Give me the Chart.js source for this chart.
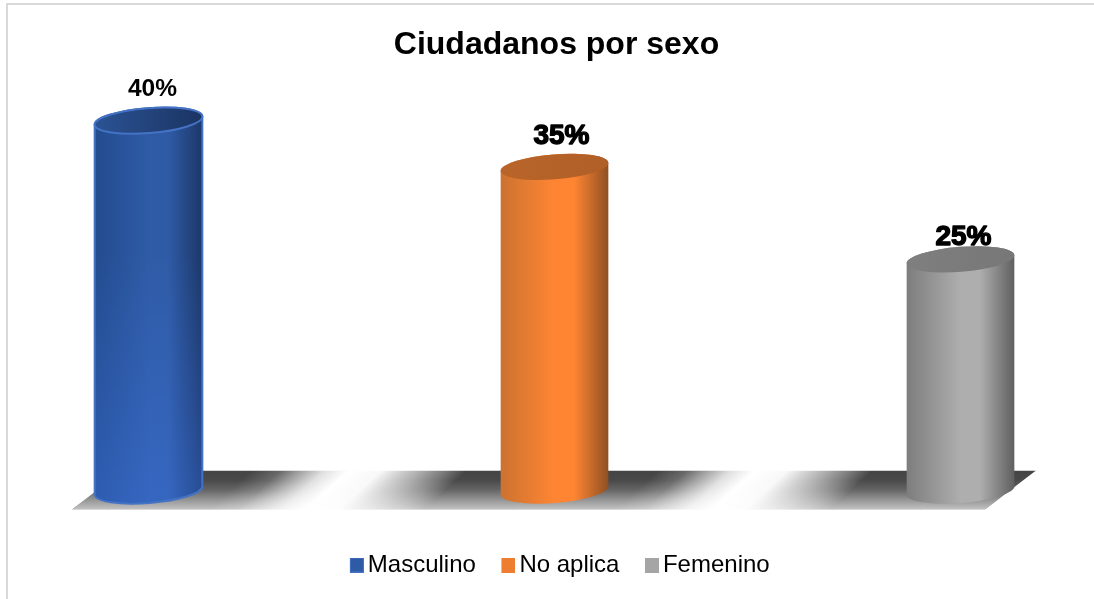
<!DOCTYPE html>
<html lang="es">
<head>
<meta charset="utf-8">
<title>Ciudadanos por sexo</title>
<script src="https://cdn.jsdelivr.net/npm/chart.js@4/dist/chart.umd.min.js"></script>
<style>
  html, body { margin: 0; padding: 0; background: #fff; overflow: hidden; }
  #wrap { position: relative; width: 1094px; height: 599px; }
</style>
</head>
<body>
<div id="wrap"><canvas id="chart" width="1094" height="599"></canvas></div>
<script>
const categories = ['Masculino', 'No aplica', 'Femenino'];
const percentages = [40, 35, 25];
const valueMax = 45;

// Shading of each cylinder: left edge, centre, right edge, lid left, lid right, outline
const edgeLeft = ['#234c8f', '#cc7230', '#7d7d7d'];
const centre = ['#2f5ba6', '#ff8533', '#aeaeae'];
const edgeRight = ['#1c3768', '#8f5022', '#5f5f5f'];
const lidLeft = ['#2b5394', '#b9652a', '#7f7f7f'];
const lidRight = ['#1b3463', '#b05f27', '#777777'];
const outline = ['#4472c4', null, null];
const lowerGlowAlpha = [0.3, 0, 0];
const swatchColors = ['#2f5ba6', '#ed7d31', '#a5a5a5'];

// Size, extra weight and offsets of the percentage labels
const labelSize = [24.5, 28, 28];
const labelWeight = [0, 1.4, 1.4];
const labelShiftX = [4, 7, 3];
const labelShiftY = [-31, -31, -22];

// Colour along one period of the floor bands, from dark band to dark band
const floorStops = [
  [0, '#444444'], [0.25, '#444444'], [0.32, '#666666'], [0.37, '#a0a0a0'],
  [0.43, '#e0e0e0'], [0.49, '#ffffff'], [0.57, '#f8f8f8'], [0.62, '#d0d0d0'],
  [0.67, '#aaaaaa'], [0.73, '#777777'], [0.78, '#444444'], [1, '#444444']
];
// Opacity of the white wash from the back of the floor to its front edge
const floorWash = [[0, 0], [0.25, 0.03], [0.5, 0.18], [0.77, 0.45], [1, 0.68]];

const LID_RY = 12.5;
const LID_TILT = -4.5 * Math.PI / 180;

function cylinderPath(ctx, x, top, base, rx) {
  const c = Math.cos(LID_TILT) * rx, s = Math.sin(LID_TILT) * rx;
  ctx.beginPath();
  ctx.moveTo(x - c, top - s);
  ctx.lineTo(x - c, base - s);
  ctx.ellipse(x, base, rx, LID_RY, LID_TILT, Math.PI, 0, true);
  ctx.lineTo(x + c, top + s);
  ctx.ellipse(x, top, rx, LID_RY, LID_TILT, 0, Math.PI, true);
  ctx.closePath();
}

function drawCylinder(ctx, bar, i) {
  const { x, y: top, base, width } = bar.getProps(['x', 'y', 'base', 'width'], true);
  const rx = width / 2;
  const body = ctx.createLinearGradient(x - rx, 0, x + rx, 0);
  body.addColorStop(0, edgeLeft[i]);
  body.addColorStop(0.5, centre[i]);
  body.addColorStop(0.68, centre[i]);
  body.addColorStop(1, edgeRight[i]);

  ctx.save();
  cylinderPath(ctx, x, top, base, rx);
  ctx.fillStyle = body;
  ctx.fill();

  if (lowerGlowAlpha[i] > 0) {
    const glow = ctx.createLinearGradient(0, top, 0, base + LID_RY);
    glow.addColorStop(0.35, 'rgba(70,130,255,0)');
    glow.addColorStop(1, `rgba(70,130,255,${lowerGlowAlpha[i]})`);
    ctx.fillStyle = glow;
    ctx.fill();
  }

  if (outline[i]) {
    ctx.strokeStyle = outline[i];
    ctx.lineWidth = 2;
    ctx.stroke();
  }

  const lid = ctx.createLinearGradient(x - rx, 0, x + rx, 0);
  lid.addColorStop(0, lidLeft[i]);
  lid.addColorStop(1, lidRight[i]);
  ctx.beginPath();
  ctx.ellipse(x, top, rx, LID_RY, LID_TILT, 0, Math.PI * 2);
  ctx.fillStyle = lid;
  ctx.fill();
  if (outline[i]) ctx.stroke();
  ctx.restore();
}

function drawFloor(chart) {
  const { ctx } = chart;
  const bars = chart.getDatasetMeta(0).data;
  const zero = chart.scales.y.getPixelForValue(0);
  const first = bars[0].x, last = bars[bars.length - 1].x;
  const yBack = zero - 20, yFront = zero + 19;
  const skew = 51;
  const xFrontL = first - 76.5, xFrontR = last + 24.5;

  ctx.save();
  ctx.beginPath();
  ctx.moveTo(xFrontL, yFront);
  ctx.lineTo(xFrontL + skew, yBack);
  ctx.lineTo(xFrontR + skew, yBack);
  ctx.lineTo(xFrontR, yFront);
  ctx.closePath();
  ctx.clip();

  // Tilted light and dark bands, with one dark band under each cylinder
  const period = (last - first) / (bars.length - 1);
  const tilt = 1.1;
  const ax = period / (1 + tilt * tilt);
  const run = (yFront - yBack) * tilt;
  for (let k = -1; k < bars.length; k++) {
    const xa = first + 2 + k * period;
    const g = ctx.createLinearGradient(xa, yBack, xa + ax, yBack + ax * tilt);
    floorStops.forEach(([t, c]) => g.addColorStop(t, c));
    ctx.beginPath();
    ctx.moveTo(xa, yBack);
    ctx.lineTo(xa + period + 0.5, yBack);
    ctx.lineTo(xa + period + 0.5 - run, yFront);
    ctx.lineTo(xa - run, yFront);
    ctx.closePath();
    ctx.fillStyle = g;
    ctx.fill();
  }

  const fade = ctx.createLinearGradient(0, yBack, 0, yFront);
  floorWash.forEach(([t, a]) => fade.addColorStop(t, `rgba(255,255,255,${a})`));
  ctx.fillStyle = fade;
  ctx.fillRect(xFrontL - 1, yBack, xFrontR + skew - xFrontL + 2, yFront - yBack);
  ctx.restore();
}

function makeSwatch(color, i) {
  const c = document.createElement('canvas');
  c.width = 22; c.height = 15;
  const g = c.getContext('2d');
  g.fillStyle = color;
  g.fillRect(8, 0, 14, 15);
  if (i === 0) {
    g.strokeStyle = '#4472c4';
    g.strokeRect(8.5, 0.5, 13, 14);
  }
  return c;
}
const swatches = swatchColors.map(makeSwatch);

const cylinderPlugin = {
  id: 'cylinders',
  beforeDraw(chart) {
    // Chart frame: its top and left rules
    const { ctx } = chart;
    ctx.save();
    ctx.fillStyle = '#d9d9d9';
    ctx.fillRect(6, 3, 1088, 2);
    ctx.fillRect(6, 3, 2, 596);
    ctx.restore();
  },
  afterLayout(chart) {
    chart.legend.left += 5.25;
    chart.legend.right += 5.25;
    chart.titleBlock.left += 2;
    chart.titleBlock.right += 2;
  },
  beforeDatasetsDraw(chart) {
    drawFloor(chart);
  },
  beforeDatasetDraw(chart, args) {
    args.meta.data.forEach((bar, i) => drawCylinder(chart.ctx, bar, i));
    return false;
  },
  afterDatasetsDraw(chart) {
    const { ctx } = chart;
    ctx.save();
    ctx.textAlign = 'center';
    ctx.textBaseline = 'middle';
    ctx.fillStyle = '#000';
    ctx.strokeStyle = '#000';
    ctx.lineJoin = 'round';
    chart.getDatasetMeta(0).data.forEach((bar, i) => {
      const text = percentages[i] + '%';
      const px = bar.x + labelShiftX[i], py = bar.y + labelShiftY[i];
      ctx.font = `bold ${labelSize[i]}px "Liberation Sans", Arial, sans-serif`;
      if (labelWeight[i] > 0) {
        ctx.lineWidth = labelWeight[i];
        ctx.strokeText(text, px, py);
      }
      ctx.fillText(text, px, py);
    });
    ctx.restore();
  }
};

new Chart(document.getElementById('chart'), {
  type: 'bar',
  data: {
    labels: categories,
    datasets: [{
      data: percentages,
      backgroundColor: swatchColors,
      barThickness: 108,
      clip: false
    }]
  },
  plugins: [cylinderPlugin],
  options: {
    responsive: false,
    animation: false,
    layout: { padding: { left: 148.5, right: 133.5, top: 26, bottom: 12 } },
    scales: {
      x: {
        offset: false,
        grid: { display: false },
        border: { display: false },
        ticks: { display: false },
        // Clear band between the floor and the legend
        afterFit(scale) { scale.height = 37; }
      },
      y: { display: false, min: 0, max: valueMax }
    },
    plugins: {
      tooltip: { enabled: false },
      title: {
        display: true,
        text: 'Ciudadanos por sexo',
        color: '#000',
        font: { family: '"Liberation Sans", Arial, sans-serif', size: 32, weight: 'bold' },
        padding: { top: 0, bottom: 10 }
      },
      legend: {
        display: true,
        position: 'bottom',
        labels: {
          color: '#000',
          font: { family: '"Liberation Sans", Arial, sans-serif', size: 24 },
          usePointStyle: true,
          pointStyleWidth: 6,
          padding: 25.5,
          generateLabels() {
            return categories.map((name, i) => ({
              text: name,
              fillStyle: swatchColors[i],
              strokeStyle: swatchColors[i],
              lineWidth: 0,
              pointStyle: swatches[i],
              index: i
            }));
          }
        }
      }
    }
  }
});
</script>
</body>
</html>
